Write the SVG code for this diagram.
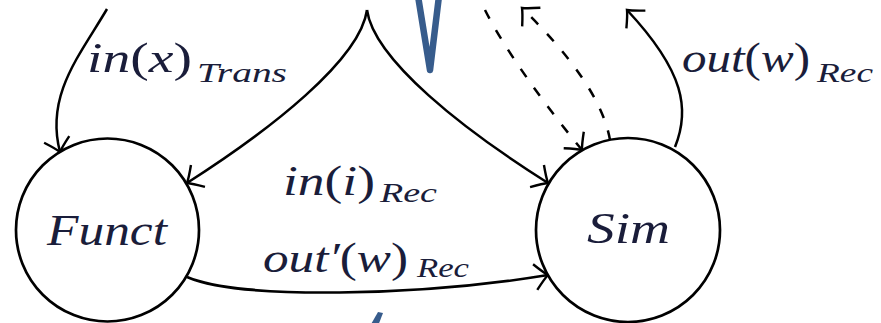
<svg xmlns="http://www.w3.org/2000/svg" width="881" height="323" viewBox="0 0 881 323">
<style>
.node{fill:#fff;stroke:#000;stroke-width:2.7}
.edge{fill:none;stroke:#000;stroke-width:2.5}
.dash{stroke-dasharray:10 13}
.m{font-family:'Liberation Serif','Times New Roman','DejaVu Serif',serif;font-style:italic;fill:#1a1d3a}
.big{font-size:44px}
.lab{font-size:42px}
.sub{font-size:28px}
.blue{fill:none;stroke:#375c8c;stroke-width:6.5;stroke-linecap:round;stroke-linejoin:round}
</style>
<defs>
<marker id="arr" markerUnits="userSpaceOnUse" markerWidth="40" markerHeight="40" viewBox="-20 -20 40 40" refX="0" refY="0" orient="auto">
<path d="M-13,-13 Q-4,-3 0,0 Q-4,3 -13,13" fill="none" stroke="#000" stroke-width="2.4"/>
</marker>
</defs>
<rect width="881" height="323" fill="#fff"/>
<g id="connectors">
<path class="edge" d="M107,9 C80,55 45,95 60,152" marker-end="url(#arr)"/>
<path class="edge" d="M367,10 C360,60 270,130 187,183" marker-end="url(#arr)"/>
<path class="edge" d="M367,10 C374,60 464,130 548,183" marker-end="url(#arr)"/>
<path class="edge" d="M187,277 C240,300 420,296 548,275" marker-end="url(#arr)"/>
<path class="edge" d="M675,147 C690,110 685,72 627,10" marker-end="url(#arr)"/>
<path class="edge dash" d="M485,10 C505,50 545,105 582,150" marker-end="url(#arr)"/>
<path class="edge dash" d="M610,140 C603,100 570,55 522,8" marker-end="url(#arr)"/>
</g>
<g id="Funct">
<circle class="node" cx="107.5" cy="230" r="91.5"/>
<text class="m big" x="47" y="245" textLength="120" lengthAdjust="spacingAndGlyphs">Funct</text>
</g>
<g id="Sim">
<circle class="node" cx="628" cy="230" r="92"/>
<text class="m big" x="587" y="243" textLength="83" lengthAdjust="spacingAndGlyphs">Sim</text>
</g>
<g id="labels">
<text class="m lab" x="87" y="72" textLength="105" lengthAdjust="spacingAndGlyphs">in<tspan font-style="normal">(</tspan>x<tspan font-style="normal">)</tspan></text>
<text class="m sub" x="197" y="82" textLength="90" lengthAdjust="spacingAndGlyphs">Trans</text>
<text class="m lab" x="682" y="72" textLength="128" lengthAdjust="spacingAndGlyphs">out<tspan font-style="normal">(</tspan>w<tspan font-style="normal">)</tspan></text>
<text class="m sub" x="817" y="82" textLength="56" lengthAdjust="spacingAndGlyphs">Rec</text>
<text class="m lab" x="283" y="195" textLength="92" lengthAdjust="spacingAndGlyphs">in<tspan font-style="normal">(</tspan>i<tspan font-style="normal">)</tspan></text>
<text class="m sub" x="380" y="202" textLength="57" lengthAdjust="spacingAndGlyphs">Rec</text>
<text class="m lab" x="263" y="272" textLength="145" lengthAdjust="spacingAndGlyphs">out′<tspan font-style="normal">(</tspan>w<tspan font-style="normal">)</tspan></text>
<text class="m sub" x="417" y="277" textLength="52" lengthAdjust="spacingAndGlyphs">Rec</text>
</g>
<g id="decor">
<path class="blue" d="M418,-4 L430,70 L439,-4"/>
<polygon points="378,312 383,313 378,326 370,326" fill="#375c8c"/>
</g>
</svg>
